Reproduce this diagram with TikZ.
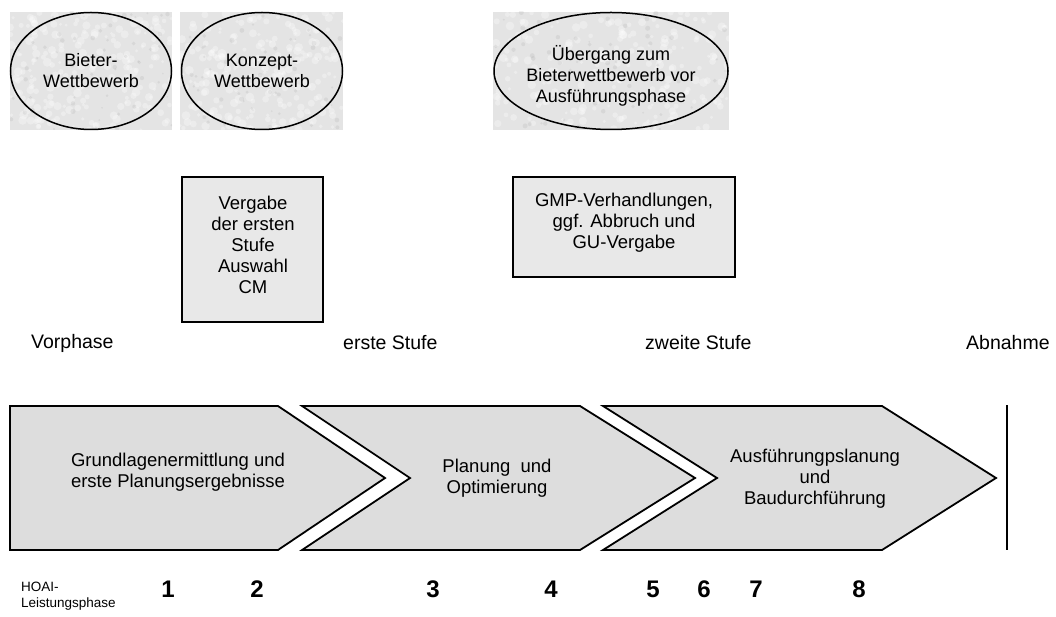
\documentclass[tikz,border=0pt]{standalone}
\usepackage{fontspec}
\setmainfont{Liberation Sans}
\usetikzlibrary{shapes.geometric}
\definecolor{chevfill}{RGB}{221,221,221}
\definecolor{boxfill}{RGB}{232,232,232}
\definecolor{marble}{RGB}{228,228,228}
\begin{document}
\begin{tikzpicture}[x=1pt,y=-1pt,
  txt/.style={font=\fontsize{18.5}{21}\selectfont, align=center, inner sep=0pt},
  oval/.style={ellipse, draw=black, line width=1.5pt, inner sep=0pt, font=\fontsize{18}{21}\selectfont, align=center},
  marblebg/.style={fill=marble},
  infobox/.style={draw=black, line width=1.6pt, fill=boxfill, inner sep=0pt, font=\fontsize{18.5}{21}\selectfont, align=center},
  chev/.style={draw=black, line width=1.8pt, fill=chevfill, line join=miter},
  stage/.style={font=\fontsize{19.5}{22}\selectfont, inner sep=0pt, anchor=west},
  num/.style={font=\fontsize{24}{26}\selectfont\bfseries, inner sep=0pt}
]
\useasboundingbox (0,0) rectangle (1056,617);
\pgfmathsetseed{7}

% marble backgrounds with fine light texture
\foreach \xa/\xb in {10/172, 180/343, 493/729}{
  \begin{scope}
    \clip (\xa,12) rectangle (\xb,130);
    \fill[marblebg] (\xa,12) rectangle (\xb,130);
    \foreach \i in {1,...,220}{
      \pgfmathsetmacro{\px}{\xa+rnd*(\xb-\xa)}
      \pgfmathsetmacro{\py}{12+rnd*118}
      \pgfmathsetmacro{\pr}{1.5+rnd*3}
      \fill[white, opacity=0.3] (\px,\py) circle[radius=\pr];
    }
    \foreach \i in {1,...,60}{
      \pgfmathsetmacro{\px}{\xa+rnd*(\xb-\xa)}
      \pgfmathsetmacro{\py}{12+rnd*118}
      \pgfmathsetmacro{\pr}{0.8+rnd*1.8}
      \fill[gray, opacity=0.12] (\px,\py) circle[radius=\pr];
    }
  \end{scope}
}

% ellipses
\node[oval, minimum width=161pt, minimum height=117pt] (e1) at (91,71) {Bieter-\\Wettbewerb};
\node[oval, minimum width=161pt, minimum height=117pt] (e2) at (262,71) {Konzept-\\Wettbewerb};
\node[oval, minimum width=234pt, minimum height=117pt] (e3) at (611,71) {};
\node[txt, font=\fontsize{18}{21}\selectfont] (e3t) at (611,76) {Übergang zum\\Bieterwettbewerb vor\\Ausführungsphase};

% boxes
\draw[infobox] (182,177) rectangle (323,322);
\node[txt] (b1) at (253,245) {Vergabe\\der ersten\\Stufe\\Auswahl\\CM};
\draw[infobox] (513,177) rectangle (735,277);
\node[txt] (b2) at (624,223) {GMP-Verhandlungen,\\ggf. Abbruch und\\GU-Vergabe};

% stage labels
\node[stage] (s1) at (31,343) {Vorphase};
\node[stage] (s2) at (343,343) {erste Stufe};
\node[stage] (s3) at (645,343) {zweite Stufe};
\node[stage] (s4) at (966,343) {Abnahme};

% chevrons
\draw[chev] (10,406) -- (278,406) -- (385,478) -- (278,550) -- (10,550) -- cycle;
\draw[chev] (302,406) -- (580,406) -- (695,478) -- (580,550) -- (302,550) -- (410,478) -- cycle;
\draw[chev] (603,406) -- (882,406) -- (996,478) -- (882,550) -- (603,550) -- (717,478) -- cycle;
\coordinate (vtop) at (1007,405);
\coordinate (vbot) at (1007,550);
\draw[line width=1.6pt] (vtop) -- (vbot);

\node[txt] (c1) at (178,472) {Grundlagenermittlung und\\erste Planungsergebnisse};
\node[txt] (c2) at (497,478) {Planung~ und\\Optimierung};
\node[txt] (c3) at (815,479) {Ausführungpslanung\\und\\Baudurchführung};

% HOAI
\node[font=\fontsize{13.5}{15.5}\selectfont, align=left, anchor=west, inner sep=0pt] (hoai) at (21,596) {HOAI-\\Leistungsphase};
\node[num] (n1) at (168,589) {1};
\node[num] (n2) at (257,589) {2};
\node[num] (n3) at (433,589) {3};
\node[num] (n4) at (551,589) {4};
\node[num] (n5) at (653,589) {5};
\node[num] (n6) at (704,589) {6};
\node[num] (n7) at (756,589) {7};
\node[num] (n8) at (859,589) {8};
\end{tikzpicture}
\end{document}
